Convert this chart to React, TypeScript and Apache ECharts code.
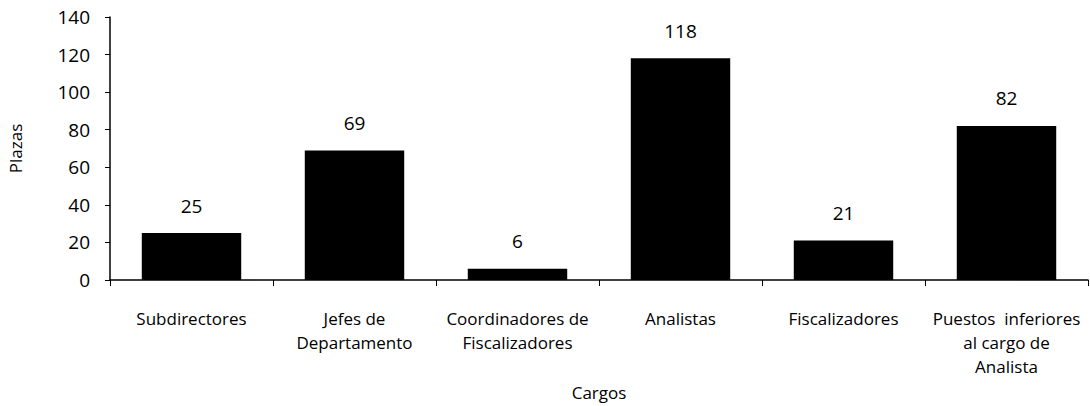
import React, { useEffect, useRef } from "react";
import * as echarts from "echarts";

const categories = [
  "Subdirectores",
  "Jefes de\nDepartamento",
  "Coordinadores de\nFiscalizadores",
  "Analistas",
  "Fiscalizadores",
  "Puestos  inferiores\nal cargo de\nAnalista",
];
const plazas = [25, 69, 6, 118, 21, 82];
const yTicks = { min: 0, max: 140, interval: 20 };

const FONT = "'Open Sans', Lato, sans-serif";

export default function App() {
  const ref = useRef<HTMLDivElement>(null);
  useEffect(() => {
    if (!ref.current) return;
    const chart = echarts.init(ref.current, undefined, { renderer: "svg" });
    chart.setOption({
      animation: false,
      backgroundColor: "#ffffff",
      textStyle: { fontFamily: FONT, color: "#000" },
      grid: {
        left: 110,
        right: 2,
        top: 17,
        bottom: 126,
        containLabel: false,
        outerBoundsMode: "none",
      },
      xAxis: {
        type: "category",
        data: categories,
        name: "Cargos",
        nameLocation: "middle",
        nameGap: 104,
        nameTextStyle: { fontSize: 17, color: "#000", fontFamily: FONT },
        axisLine: { lineStyle: { color: "#000", width: 1.5 } },
        axisTick: { show: true, alignWithLabel: false, length: 6, lineStyle: { color: "#000" } },
        axisLabel: {
          interval: 0,
          margin: 26,
          fontSize: 17,
          lineHeight: 24,
          color: "#000",
          fontFamily: FONT,
        },
      },
      yAxis: {
        type: "value",
        min: yTicks.min,
        max: yTicks.max,
        interval: yTicks.interval,
        name: "Plazas",
        nameLocation: "middle",
        nameGap: 86,
        nameTextStyle: { fontSize: 17, color: "#000", fontFamily: FONT },
        axisLine: { show: true, lineStyle: { color: "#000", width: 1.5 } },
        axisTick: { show: true, length: 5, lineStyle: { color: "#000" } },
        splitLine: { show: false },
        axisLabel: { fontSize: 19, color: "#000", margin: 20, fontFamily: FONT },
      },
      series: [
        {
          type: "bar",
          data: plazas,
          barWidth: "61%",
          itemStyle: { color: "#000" },
          label: {
            show: true,
            position: "top",
            distance: 18,
            fontSize: 19,
            color: "#000",
            fontFamily: FONT,
          },
        },
      ],
    });
    return () => chart.dispose();
  }, []);
  return <div ref={ref} style={{ width: 1090, height: 406, position: "absolute", left: 0, top: 0 }} />;
}
